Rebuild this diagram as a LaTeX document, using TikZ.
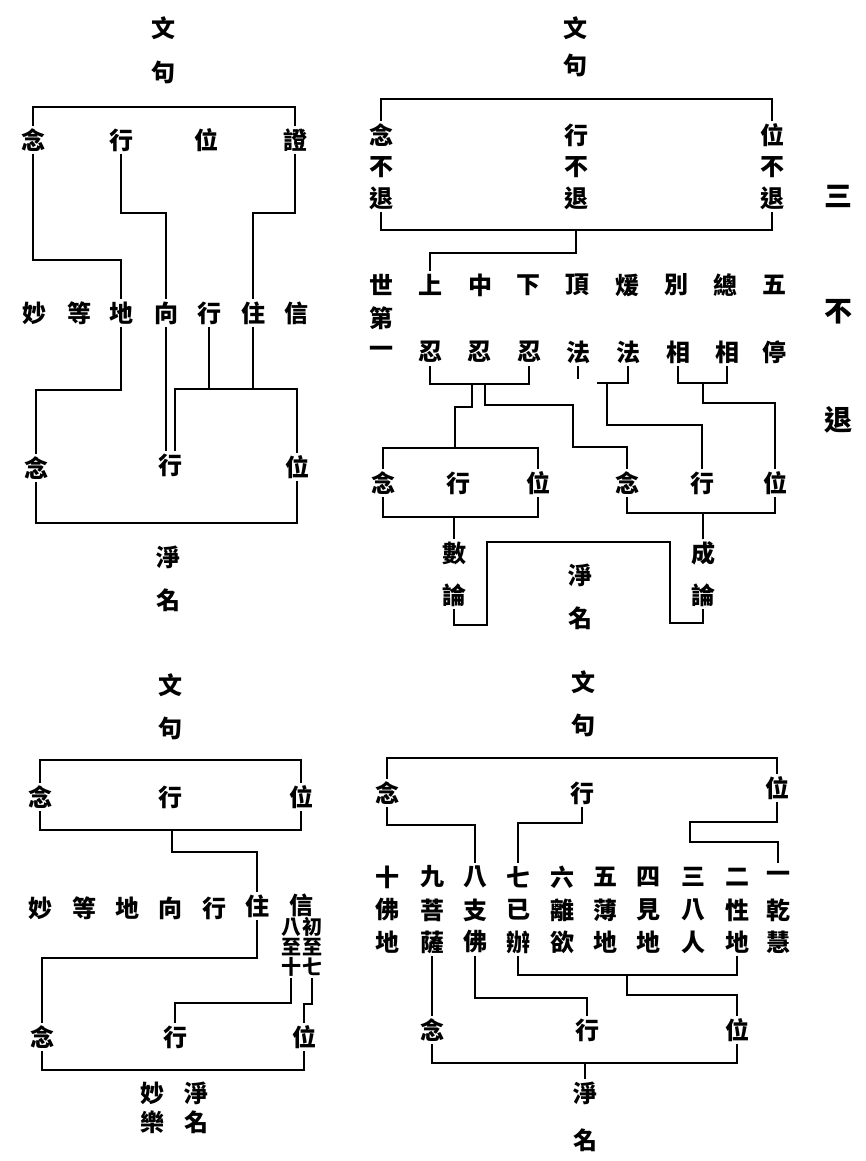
\documentclass[tikz,border=0pt]{standalone}
\usepackage{fontspec}
\newfontfamily\cjk{Noto Sans CJK TC}
\newcommand\zi[4]{\node[ch] (#1) at (#2,#3) {#4};}
\newcommand\zib[4]{\node[bigch] (#1) at (#2,#3) {#4};}
\tikzset{
  ch/.style={font=\cjk\bfseries\fontsize{24}{24}\selectfont, inner sep=0pt, minimum width=24pt, minimum height=28pt},
  smallch/.style={font=\cjk\bfseries\fontsize{20}{20}\selectfont, inner sep=0pt, minimum width=20pt, minimum height=22pt},
  bigch/.style={font=\cjk\bfseries\fontsize{28}{28}\selectfont, inner sep=0pt},
  ln/.style={line width=1.3pt, line cap=butt, line join=miter}
}
\begin{document}
\begin{tikzpicture}[x=1pt,y=-1pt]
\fill[white] (0,0) rectangle (865,1161);
\useasboundingbox (0,0) rectangle (865,1161);

% ================= Panel 1 (top-left) =================
\zi{p1wen}{163}{28}{文}
\zi{p1ju}{163}{72}{句}
\zi{p1nian}{33}{140}{念}
\zi{p1xing}{121}{140}{行}
\zi{p1wei}{206}{140}{位}
\zi{p1zheng}{295}{140}{證}
\zi{p1r1}{35}{313}{妙}
\zi{p1r2}{79}{313}{等}
\zi{p1r3}{121}{313}{地}
\zi{p1r4}{166}{313}{向}
\zi{p1r5}{209}{313}{行}
\zi{p1r6}{253}{313}{住}
\zi{p1r7}{296}{313}{信}
\zi{p1n2}{36}{468}{念}
\zi{p1x2}{170}{465}{行}
\zi{p1w2}{297}{467}{位}
\zi{p1jing}{168}{557}{淨}
\zi{p1ming}{168}{600}{名}

\draw[ln] (p1nian.north) |- (295,107) -- (p1zheng.north);
\draw[ln] (p1nian.south) |- (121,260) -- (p1r3.north);
\draw[ln] (p1xing.south) |- (166,213) -- (p1r4.north);
\draw[ln] (p1zheng.south) |- (253,213) -- (p1r6.north);
\draw[ln] (p1r3.south) |- (36,390) -- (p1n2.north);
\draw[ln] (p1r4.south) -- ([xshift=-4pt]p1x2.north);
\draw[ln] (p1r5.south) -- (209,389);
\draw[ln] (p1r6.south) -- (253,389);
\draw[ln] ([xshift=5pt]p1x2.north) |- (297,389) -- (p1w2.north);
\draw[ln] (p1n2.south) |- (297,523) -- (p1w2.south);

% ================= Panel 2 (top-right) =================
\zi{p2wen}{575}{28}{文}
\zi{p2ju}{575}{65}{句}
\zi{p2a1}{381}{135}{念}
\zi{p2a2}{381}{167}{不}
\zi{p2a3}{381}{198}{退}
\zi{p2b1}{576}{135}{行}
\zi{p2b2}{576}{167}{不}
\zi{p2b3}{576}{198}{退}
\zi{p2c1}{772}{135}{位}
\zi{p2c2}{772}{167}{不}
\zi{p2c3}{772}{198}{退}

\draw[ln] (p2a1.north) |- (772,99) -- (p2c1.north);
\draw[ln] (p2a3.south) |- (772,230) -- (p2c3.south);

\zi{p2r1a}{381}{285}{世}
\zi{p2r1b}{381}{318}{第}
\zi{p2r1c}{381}{352}{一}
\zi{p2r2a}{430}{285}{上}
\zi{p2r2b}{430}{352}{忍}
\zi{p2r3a}{480}{285}{中}
\zi{p2r3b}{479}{352}{忍}
\zi{p2r4a}{528}{285}{下}
\zi{p2r4b}{529}{352}{忍}
\zi{p2r5a}{577}{285}{頂}
\zi{p2r5b}{578}{352}{法}
\zi{p2r6a}{627}{285}{煖}
\zi{p2r6b}{628}{352}{法}
\zi{p2r7a}{676}{285}{別}
\zi{p2r7b}{678}{352}{相}
\zi{p2r8a}{725}{285}{總}
\zi{p2r8b}{727}{352}{相}
\zi{p2r9a}{774}{285}{五}
\zi{p2r9b}{774}{352}{停}

\draw[ln] (576,230) -- (576,253) -| (p2r2a.north);

\zi{p2L1}{383}{483}{念}
\zi{p2L2}{458}{483}{行}
\zi{p2L3}{538}{483}{位}
\zi{p2R1}{627}{483}{念}
\zi{p2R2}{702}{483}{行}
\zi{p2R3}{775}{483}{位}

\draw[ln] (p2r2b.south) |- (529,384) -- (p2r4b.south);
\draw[ln] (472,384) -- (472,407) -- (455,407) -- (455,448);
\draw[ln] (485,384) -- (485,405) -- (573,405) -- (573,447) -| (p2R1.north);
\draw[ln] (p2r5b.south) -- ++(0,13);
\draw[ln] (p2r6b.south) |- (597,383);
\draw[ln] (607,383) -- (607,425) -| (p2R2.north);
\draw[ln] (p2r7b.south) |- (727,383) -- (p2r8b.south);
\draw[ln] (703,383) -- (703,403) -| (p2R3.north);
\draw[ln] (p2L1.north) |- (538,448) -- (p2L3.north);
\draw[ln] (p2L1.south) |- (538,517) -- (p2L3.south);
\draw[ln] (p2R1.south) |- (775,513) -- (p2R3.south);

\zi{p2shu}{454}{553}{數}
\zi{p2lun1}{454}{595}{論}
\zi{p2cheng}{703}{553}{成}
\zi{p2lun2}{703}{595}{論}
\zi{p2jing}{580}{575}{淨}
\zi{p2ming}{580}{618}{名}

\draw[ln] (454,517) -- (p2shu.north);
\draw[ln] (703,513) -- (p2cheng.north);
\draw[ln] (p2lun1.south) |- (487,625) |- (670,542) |- (703,623) -- (p2lun2.south);

% ================= far right =================
\zib{p0a}{838}{196}{三}
\zib{p0b}{838}{312}{不}
\zib{p0c}{838}{420}{退}

% ================= Panel 3 (bottom-left) =================
\zi{p3wen}{170}{685}{文}
\zi{p3ju}{170}{728}{句}
\zi{p3n}{40}{797}{念}
\zi{p3x}{170}{797}{行}
\zi{p3w}{301}{797}{位}
\draw[ln] (p3n.north) |- (301,760) -- (p3w.north);
\draw[ln] (p3n.south) |- (301,830) -- (p3w.south);

\zi{p3r1}{40}{908}{妙}
\zi{p3r2}{84}{908}{等}
\zi{p3r3}{127}{908}{地}
\zi{p3r4}{170}{908}{向}
\zi{p3r5}{214}{908}{行}
\zi{p3r6}{257}{906}{住}
\zi{p3r7}{301}{905}{信}
\node[smallch] (p3ba1) at (291,927) {八};
\node[smallch] (p3ba2) at (291,947) {至};
\node[smallch] (p3ba3) at (291,967) {十};
\node[smallch] (p3chu1) at (312,927) {初};
\node[smallch] (p3chu2) at (312,947) {至};
\node[smallch] (p3chu3) at (312,967) {七};

\draw[ln] (172,830) -- (172,852) -| (p3r6.north);

\zi{p3n2}{42}{1037}{念}
\zi{p3x2}{175}{1037}{行}
\zi{p3w2}{304}{1037}{位}

\draw[ln] (p3r6.south) |- (42,958) -- (p3n2.north);
\draw[ln] (p3ba3.south) |- (175,1003) -- (p3x2.north);
\draw[ln] (p3chu3.south) |- (304,1004) -- (p3w2.north);
\draw[ln] (p3n2.south) |- (304,1070) -- (p3w2.south);

\zi{p3miao}{152}{1093}{妙}
\zi{p3le}{152}{1122}{樂}
\zi{p3jing}{196}{1093}{淨}
\zi{p3ming}{196}{1122}{名}

% ================= Panel 4 (bottom-right) =================
\zi{p4wen}{583}{682}{文}
\zi{p4ju}{583}{725}{句}
\zi{p4n}{387}{793}{念}
\zi{p4x}{582}{793}{行}
\zi{p4w}{777}{788}{位}
\draw[ln] (p4n.north) |- (777,758) -- (p4w.north);

\zi{p4c10a}{387}{877}{十}
\zi{p4c10b}{387}{910}{佛}
\zi{p4c10c}{387}{942}{地}
\zi{p4c9a}{432}{877}{九}
\zi{p4c9b}{432}{910}{菩}
\zi{p4c9c}{432}{942}{薩}
\zi{p4c8a}{475}{877}{八}
\zi{p4c8b}{475}{910}{支}
\zi{p4c8c}{475}{942}{佛}
\zi{p4c7a}{518}{877}{七}
\zi{p4c7b}{518}{910}{已}
\zi{p4c7c}{518}{942}{辦}
\zi{p4c6a}{562}{877}{六}
\zi{p4c6b}{562}{910}{離}
\zi{p4c6c}{562}{942}{欲}
\zi{p4c5a}{605}{877}{五}
\zi{p4c5b}{605}{910}{薄}
\zi{p4c5c}{605}{942}{地}
\zi{p4c4a}{648}{877}{四}
\zi{p4c4b}{648}{910}{見}
\zi{p4c4c}{648}{942}{地}
\zi{p4c3a}{693}{877}{三}
\zi{p4c3b}{693}{910}{八}
\zi{p4c3c}{693}{942}{人}
\zi{p4c2a}{737}{877}{二}
\zi{p4c2b}{737}{910}{性}
\zi{p4c2c}{737}{942}{地}
\zi{p4c1a}{778}{877}{一}
\zi{p4c1b}{778}{910}{乾}
\zi{p4c1c}{778}{942}{慧}

\draw[ln] (p4n.south) |- (475,825) -- (p4c8a.north);
\draw[ln] (p4x.south) |- (518,823) -- (p4c7a.north);
\draw[ln] (p4w.south) |- (690,822) |- (778,842) -- (p4c1a.north);

\zi{p4n2}{432}{1030}{念}
\zi{p4x2}{587}{1030}{行}
\zi{p4w2}{737}{1030}{位}

\draw[ln] (p4c9c.south) -- (p4n2.north);
\draw[ln] (p4c8c.south) |- (587,998) -- (p4x2.north);
\draw[ln] (p4c7c.south) |- (737,975) -- (p4c2c.south);
\draw[ln] (627,975) -- (627,995) -| (p4w2.north);
\draw[ln] (p4n2.south) |- (737,1063) -- (p4w2.south);

\zi{p4jing}{585}{1093}{淨}
\zi{p4ming}{585}{1140}{名}
\draw[ln] (585,1063) -- (p4jing.north);

\end{tikzpicture}
\end{document}
